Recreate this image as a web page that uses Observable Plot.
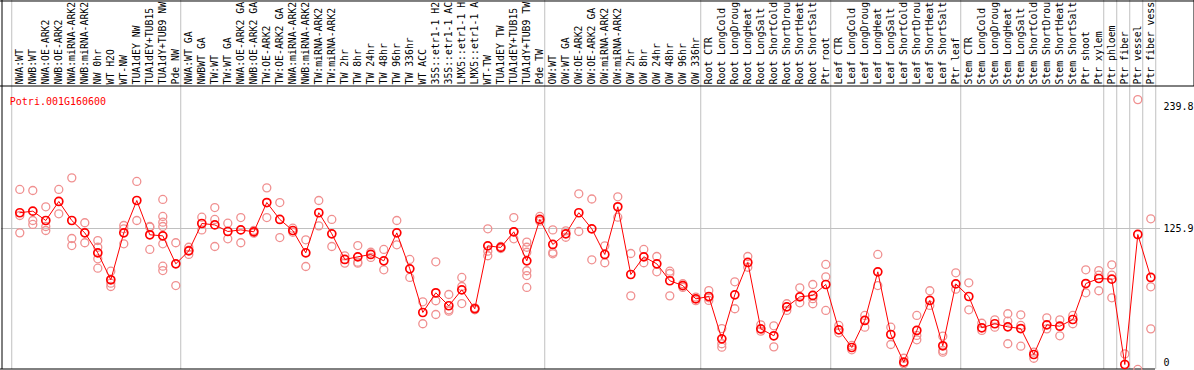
<!DOCTYPE html>
<html><head><meta charset="utf-8">
<script src="https://cdn.jsdelivr.net/npm/d3@7"></script>
<script src="https://cdn.jsdelivr.net/npm/@observablehq/plot@0.6"></script>
<style>
html,body{margin:0;padding:0;background:#fff;}
#chart svg{display:block;overflow:hidden;}
</style></head><body><div id="chart"></div>
<script>
const geneName = "Potri.001G160600";

// sample labels as they appear in the header (long names are cut to 14 characters there)
const sampleLabels = [
  "NWA:WT","NWB:WT","NWA:OE-ARK2","NWB:OE-ARK2","NWA:miRNA-ARK2","NWB:miRNA-ARK2","NW 0hr","WT H2O","WT-NW","TUA1dEY NW","TUA1dEY+TUB15","TUA1dY+TUB9 NW","Pde NW",
  "NWA:WT GA","NWBWT GA","TW:WT","TW:WT GA","NWA:OE-ARK2 GA","NWB:OE-ARK2 GA","TW:OE-ARK2","TW:OE-ARK2 GA","NWA:miRNA-ARK2","NWB:miRNA-ARK2","TW:miRNA-ARK2","TW:miRNA-ARK2",
  "TW 2hr","TW 8hr","TW 24hr","TW 48hr","TW 96hr","TW 336hr","WT ACC","35S::etr1-1 H2","35S::etr1-1 AC","LMX5::etr1-1 H","LMX5::etr1-1 A","WT-TW","TUA1dEY TW","TUA1dEY+TUB15","TUA1dY+TUB9 TW","Pde TW",
  "OW:WT","OW:WT GA","OW:OE-ARK2","OW:OE-ARK2 GA","OW:miRNA-ARK2","OW:miRNA-ARK2","OW 2hr","OW 8hr","OW 24hr","OW 48hr","OW 96hr","OW 336hr",
  "Root CTR","Root LongCold","Root LongDroug","Root LongHeat","Root LongSalt","Root ShortCold","Root ShortDrou","Root ShortHeat","Root ShortSalt","Ptr root",
  "Leaf CTR","Leaf LongCold","Leaf LongDroug","Leaf LongHeat","Leaf LongSalt","Leaf ShortCold","Leaf ShortDrou","Leaf ShortHeat","Leaf ShortSalt","Ptr leaf",
  "Stem CTR","Stem LongCold","Stem LongDroug","Stem LongHeat","Stem LongSalt","Stem ShortCold","Stem ShortDrou","Stem ShortHeat","Stem ShortSalt","Ptr shoot",
  "Ptr xylem","Ptr phloem","Ptr fiber","Ptr vessel","Ptr fiber vess"
];

const meanValues = [
  140.7,142.2,133.4,151.3,133.4,121.8,103.0,77.7,121.8,152.2,120.0,119.0,92.7,
  104.9,130.6,129.3,123.1,124.6,122.8,150.3,134.4,124.0,103.0,140.7,120.9,
  96.8,99.3,101.5,95.5,121.8,88.0,47.0,65.5,53.3,68.3,50.5,109.6,108.1,122.8,95.5,134.4,
  110.9,120.9,140.7,125.6,101.5,146.3,82.7,99.3,92.7,76.8,72.3,59.8,
  62.0,22.2,63.6,94.0,31.6,25.1,52.3,61.7,63.0,73.3,
  30.7,14.1,39.5,85.2,26.3,0.3,30.1,58.3,15.7,73.9,
  62.0,32.6,36.4,33.5,31.9,7.5,35.4,34.1,40.4,74.2,
  78.9,78.3,-1.9,120.3,79.9
];

const replicateValues = [
  [162.6,138.1,121.8],[161.6,133.4,129.7],[146.3,127.8,124.0],[162.6,139.7],[173.5,116.5,109.9],[131.3,112.5],
  [114.6,108.3,97.4,88.6],[85.8,74.5,71.4],[128.7,125.6,111.5],[170.1,133.4],[127.8,127.1,106.2],
  [153.2,137.2,131.8,127.8,111.5,90.5,86.4],[112.5,72.3],
  [108.3,105.5,101.5],[136.5,124.6],[145.6,134.4,109.0],[130.9,116.2],[136.2,112.5],[124.0,121.5],
  [164.1,136.2],[150.3,117.4],[126.2,122.4],[115.3,90.2],[152.2,128.4],[134.4,109.0],
  [100.2,93.4],[109.9,94.3,93.3],[103.6,98.7],[106.2,87.1],[133.4,110.6],[96.8,79.9],[57.0,36.4],
  [94.6,58.0,45.1],[63.9,49.5,48.2],[79.9,71.4,55.4],[51.4,49.5],[125.6,104.6,100.3],[109.0,107.1],
  [136.2,122.8,116.2],[113.1,108.3,103.6,86.2,81.7,70.5],[137.2,132.8],
  [124.6,103.4,102.1],[123.7,117.7],[158.5,123.1],[153.6,96.5],[109.6,93.7],[155.7,136.5],
  [102.4,62.6],[106.2,93.7],[99.6,85.2],[85.8,83.6,62.6],[74.0,70.6],[61.5,58.1],
  [67.6,60.8,58.3],[31.9,17.6,14.4],[75.8,50.5],[99.6,89.5],[35.4,29.4],[34.5,14.7],[55.2,48.9],
  [70.2,56.1],[73.3,60.0,55.2],[92.1,80.5,48.9],
  [34.8,27.9],[16.0,11.9],[44.2,33.2],[101.5,72.3],[33.2,16.9],[4.0,-1.2],[44.2,25.4,21.3],
  [67.4,53.6],[24.7,11.3,9.7],[84.3,68.9],
  [74.9,49.5],[36.9,30.1],[40.1,33.2],[45.8,38.8,17.6],[44.8,34.8,15.3],[9.7,4.0],[42.0,31.6],
  [40.1,25.1],[44.2,36.4],[87.1,65.5],
  [86.4,82.0,67.4],[91.8,82.0,60.8],[8.1,-12],[247,-6.5],[135.0,71.1,31.6]
];

const yTickValues = [0, 125.9, 239.8];
const gridValues = [125.9];
const groupBreaks = [0, 13, 41, 53, 63, 73, 84, 85, 86, 87, 88];

// layout (pixels)
const W = 1194, H = 370;
const mt = 85, mb = 1, ml = 1, mr = 39;
const step = 13, firstPx = 19.3;
const zeroPx = 362, pxPerUnit = 134 / 125.9;
const xAtPx = px => 1 + (px - firstPx) / step;
const yAtPx = px => (zeroPx - px) / pxPerUnit;

const meanData = meanValues.map((v, i) => ({i: i + 1, v}));
const repData = replicateValues.flatMap((arr, i) => arr.map(v => ({i: i + 1, v})));
const mono = "DejaVu Sans Mono";

const chart = Plot.plot({
  width: W, height: H,
  marginTop: mt, marginBottom: mb, marginLeft: ml, marginRight: mr,
  x: {type: "linear", domain: [xAtPx(ml), xAtPx(W - mr)], axis: null},
  y: {type: "linear", domain: [yAtPx(H - mb), yAtPx(mt)], axis: null},
  style: {fontFamily: mono, fontSize: "10px", background: "white", overflow: "hidden"},
  marks: [
    // group separators (full height, through header)
    Plot.ruleX(groupBreaks, {x: d => d + 0.38, y1: yAtPx(0), y2: yAtPx(H - mb), stroke: "#c0c0c0", strokeWidth: 1}),
    // gridline
    Plot.ruleY(gridValues, {x1: xAtPx(1), x2: xAtPx(1160), stroke: "#c0c0c0", strokeWidth: 1}),
    // black frame lines
    Plot.ruleY([yAtPx(0.5)], {x1: xAtPx(0), x2: xAtPx(W), stroke: "black"}),
    Plot.ruleY([yAtPx(mt + 0.5)], {x1: xAtPx(0), x2: xAtPx(W), stroke: "black"}),
    Plot.ruleY([yAtPx(H - 1.5)], {x1: xAtPx(0), x2: xAtPx(W - mr), stroke: "black"}),
    Plot.ruleX([xAtPx(1.5)], {y1: yAtPx(0), y2: yAtPx(H - 1), stroke: "black"}),
    Plot.ruleX([xAtPx(W - 0.5)], {y1: yAtPx(0), y2: yAtPx(mt + 1), stroke: "black"}),
    // replicate circles
    Plot.dot(repData, {x: "i", y: "v", r: 4, stroke: "#f09090", strokeWidth: 1.3, fill: "none"}),
    // mean line + circles
    Plot.line(meanData, {x: "i", y: "v", stroke: "#ff0000", strokeWidth: 1}),
    Plot.dot(meanData, {x: "i", y: "v", r: 4, stroke: "#ff0000", strokeWidth: 1.7, fill: "none"}),
    // sample labels in header
    Plot.text(sampleLabels, {x: (d, i) => i + 1, text: d => d, frameAnchor: "top", dy: -1, rotate: -90,
      textAnchor: "start", lineAnchor: "middle", fill: "black", fontFamily: mono, fontSize: 9.8}),
    // gene name
    Plot.text([geneName], {frameAnchor: "top-left", dx: 8.3, dy: 12, text: d => d, textAnchor: "start",
      fill: "#ff0000", fontFamily: mono, fontSize: 10}),
    // y tick labels on the right
    Plot.text(yTickValues, {y: d => d, text: d => String(d), frameAnchor: "right", dx: 8, textAnchor: "start",
      fill: "black", fontFamily: mono, fontSize: 10})
  ]
});
document.getElementById("chart").appendChild(chart);
</script>
</body></html>
